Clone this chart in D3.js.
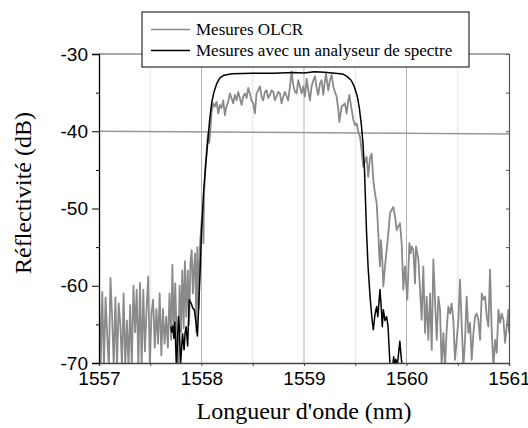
<!DOCTYPE html>
<html>
<head>
<meta charset="utf-8">
<script src="https://cdn.jsdelivr.net/npm/d3@7"></script>
<style>
  body { margin: 0; background: #fff; }
  svg { display: block; }
</style>
</head>
<body>
<script>
// axis ticks
const xMajor = [1557, 1558, 1559, 1560, 1561];
const xMinor = [1557.5, 1558.5, 1559.5, 1560.5];
const yMajor = [-30, -40, -50, -60, -70];
const yMinor = [-35, -45, -55, -65];

// legend labels
const seriesNames = ["Mesures OLCR", "Mesures avec un analyseur de spectre"];

// hand drawn reference line near -40 dB (slightly tilted in the original)
const refLine = [[1557, -40.0], [1561, -40.35]];

// OLCR measurement (grey), [wavelength nm, dB]
const olcr = [
  [1557.000,-60.5],[1557.016,-70.5],[1557.032,-60.8],[1557.048,-70.5],[1557.064,-61.5],[1557.080,-66.5],
  [1557.096,-70.5],[1557.112,-59],[1557.128,-64],[1557.144,-70.5],[1557.160,-61.5],[1557.176,-70.5],
  [1557.192,-62.3],[1557.208,-65],[1557.224,-70.5],[1557.240,-61],[1557.256,-70.5],[1557.272,-64.5],
  [1557.288,-70.5],[1557.304,-62.5],[1557.320,-70.5],[1557.336,-60],[1557.352,-66],[1557.368,-60.5],
  [1557.384,-70.5],[1557.400,-59.6],[1557.416,-70.5],[1557.432,-60.5],[1557.448,-68.5],[1557.464,-63],
  [1557.480,-58.8],[1557.496,-70.5],[1557.512,-63.5],[1557.528,-61.8],[1557.544,-68],[1557.560,-63],
  [1557.576,-67.5],[1557.592,-61],[1557.608,-69],[1557.624,-63],[1557.640,-67.5],[1557.656,-64],
  [1557.672,-68],[1557.688,-61],[1557.704,-67],[1557.716,-57.3],[1557.730,-66],[1557.744,-59.7],
  [1557.758,-67],[1557.772,-70.5],[1557.786,-60],[1557.800,-66],[1557.812,-58],[1557.826,-65.5],
  [1557.838,-56.8],[1557.852,-64],[1557.866,-58],[1557.880,-65],[1557.892,-57],[1557.904,-55.4],
  [1557.916,-61],[1557.928,-57.5],[1557.938,-55.8],[1557.950,-66],[1557.960,-55],[1557.972,-63],
  [1557.984,-55],[1557.994,-53],[1558.004,-51],[1558.012,-50.5],[1558.019,-54.5],[1558.025,-48],
  [1558.033,-46],[1558.042,-44],[1558.050,-42.5],[1558.058,-41],[1558.067,-40.2],[1558.075,-41.5],
  [1558.083,-40.5],[1558.092,-38.8],
  [1558.098,-37.5],[1558.114,-36.4],[1558.130,-36.8],[1558.147,-36.2],[1558.163,-37.7],[1558.179,-36.6],
  [1558.195,-37.0],[1558.212,-36.0],[1558.228,-37.9],[1558.244,-36.8],[1558.260,-36.2],[1558.277,-35.1],
  [1558.293,-35.7],[1558.309,-36.4],[1558.326,-35.3],[1558.342,-36.0],[1558.358,-34.9],[1558.374,-35.7],
  [1558.391,-36.6],[1558.407,-35.5],[1558.423,-35.1],[1558.440,-35.7],[1558.456,-34.4],[1558.472,-35.1],
  [1558.488,-36.0],[1558.505,-36.4],[1558.521,-37.7],[1558.537,-35.1],[1558.553,-34.7],[1558.570,-34.2],
  [1558.586,-35.5],[1558.602,-36.0],[1558.619,-34.9],[1558.635,-34.7],[1558.651,-35.7],[1558.667,-35.3],
  [1558.684,-34.7],[1558.700,-34.9],[1558.716,-36.0],[1558.733,-35.5],[1558.749,-34.9],[1558.765,-35.1],
  [1558.781,-36.4],[1558.798,-35.5],[1558.814,-34.9],[1558.830,-35.5],[1558.846,-36.0],[1558.863,-34.2],
  [1558.879,-32.3],[1558.895,-34.0],[1558.912,-34.9],[1558.928,-35.1],[1558.944,-33.4],[1558.960,-34.2],
  [1558.977,-35.1],[1558.993,-34.2],[1559.009,-35.5],[1559.026,-33.2],[1559.042,-34.7],[1559.058,-36.0],
  [1559.074,-34.2],[1559.091,-33.4],[1559.107,-32.9],[1559.123,-34.4],[1559.139,-35.3],[1559.156,-33.8],
  [1559.172,-33.4],[1559.188,-35.3],[1559.205,-33.4],[1559.214,-32.5],[1559.237,-34.7],[1559.253,-33.4],
  [1559.270,-32.7],[1559.286,-34.2],[1559.302,-34.9],[1559.318,-35.5],[1559.335,-37.2],[1559.345,-38.8],
  [1559.367,-36.8],[1559.384,-36.6],[1559.400,-36.4],[1559.416,-37.7],[1559.432,-36.0],[1559.442,-35.3],
  [1559.465,-37.2],[1559.481,-38.5],[1559.498,-39.2],[1559.514,-39.0],[1559.530,-40.1],[1559.546,-40.7],
  [1559.562,-42.4],[1559.578,-44.6],[1559.595,-43.9],[1559.611,-43.3],[1559.627,-45.9],[1559.643,-43.5],
  [1559.660,-42.9],[1559.676,-46.3],[1559.692,-48.0],[1559.709,-49.3],[1559.725,-53.2],[1559.735,-56.2],
  [1559.741,-57.5],[1559.751,-54.1],[1559.764,-56.7],[1559.774,-60.1],[1559.790,-57.5],[1559.806,-55.4],
  [1559.823,-53.2],[1559.839,-50.6],[1559.855,-50.2],[1559.871,-49.8],[1559.888,-51.0],[1559.904,-52.8],
  [1559.920,-52.3],[1559.936,-51.9],[1559.953,-54.5],[1559.969,-60.5],[1559.985,-57.5],[1560.008,-61.8],
  [1560.028,-54.5],[1560.041,-55.8],[1560.050,-54.9],[1560.067,-55.4],[1560.083,-59.7],[1560.093,-54.9],
  [1560.106,-55.8],[1560.116,-56.6],[1560.132,-60.5],[1560.148,-64.4],[1560.164,-57.5],[1560.181,-66.1],
  [1560.197,-61.4],[1560.213,-67.0],[1560.230,-61.0],[1560.246,-68.3],[1560.262,-56.6],[1560.278,-61.8],
  [1560.295,-67.0],[1560.311,-61.4],[1560.327,-63.1],[1560.343,-70.5],[1560.360,-66.1],[1560.376,-70.5],
  [1560.392,-65.7],[1560.408,-62.7],[1560.425,-63.6],[1560.441,-62.3],[1560.457,-64.4],[1560.473,-69.6],
  [1560.490,-67.0],[1560.506,-64.4],[1560.522,-59.2],[1560.539,-65.3],[1560.555,-70.5],[1560.571,-67.0],
  [1560.587,-61.4],[1560.604,-66.1],[1560.620,-64.8],[1560.636,-69.6],[1560.653,-66.1],[1560.669,-64.0],
  [1560.685,-63.6],[1560.701,-64.4],[1560.718,-67.0],[1560.734,-61.0],[1560.750,-61.8],[1560.767,-61.4],
  [1560.783,-64.0],[1560.799,-65.3],[1560.815,-57.9],[1560.832,-66.1],[1560.848,-70.5],[1560.864,-67.0],
  [1560.880,-68.7],[1560.897,-63.1],[1560.913,-64.8],[1560.929,-63.6],[1560.946,-64.4],[1560.962,-67.4],
  [1560.978,-65.3],[1560.994,-63.1],[1561.000,-66.1]
];

// optical spectrum analyser measurement (black)
const osa = [
  [1557.700,-65.3],[1557.710,-66.0],[1557.720,-65.2],[1557.730,-66.8],[1557.740,-64.7],[1557.755,-70.5],
  [1557.765,-67.5],[1557.775,-64.0],[1557.785,-65.7],[1557.795,-70.3],[1557.805,-68.3],[1557.815,-66.2],
  [1557.830,-68.3],[1557.840,-66.1],[1557.850,-65.3],[1557.865,-67.8],[1557.880,-61.8],[1557.900,-62.3],
  [1557.915,-62.9],[1557.930,-63.1],[1557.945,-64.6],[1557.960,-66.5],[1557.975,-62.0],[1557.990,-57.0],
  [1558.000,-53.0],[1558.020,-48.0],[1558.040,-44.5],[1558.060,-41.5],[1558.080,-38.5],[1558.100,-36.3],
  [1558.120,-35.0],[1558.150,-33.8],[1558.180,-33.1],[1558.220,-32.75],[1558.300,-32.55],[1558.500,-32.5],
  [1558.700,-32.5],[1558.900,-32.4],[1559.000,-32.45],[1559.100,-32.3],[1559.200,-32.35],[1559.300,-32.5],
  [1559.380,-32.6],[1559.420,-32.9],[1559.460,-33.4],[1559.490,-34.2],[1559.520,-35.5],[1559.540,-37.0],
  [1559.560,-39.2],[1559.575,-41.5],[1559.590,-45.0],[1559.600,-49.0],[1559.610,-53.0],[1559.625,-57.5],
  [1559.645,-61.5],[1559.665,-64.5],[1559.676,-65.7],[1559.690,-64.0],[1559.700,-63.2],[1559.709,-62.7],
  [1559.720,-64.0],[1559.741,-60.5],[1559.752,-62.5],[1559.764,-65.3],[1559.774,-63.1],[1559.790,-64.5],
  [1559.806,-64.0],[1559.820,-65.3],[1559.840,-70.5],[1559.860,-71.0],[1559.875,-69.2],[1559.885,-70.5],
  [1559.895,-69.5],[1559.910,-70.3],[1559.925,-68.5],[1559.935,-67.2],[1559.950,-69.5],[1559.965,-71.0]
];

const width = 528, height = 428;
const margin = {top: 54, right: 19, bottom: 65, left: 99};

const svg = d3.select("body").append("svg")
    .attr("width", width)
    .attr("height", height);

svg.append("rect").attr("width", width).attr("height", height).attr("fill", "#fff");

const x = d3.scaleLinear().domain([1557, 1561]).range([margin.left, width - margin.right]);
const y = d3.scaleLinear().domain([-70, -30]).range([height - margin.bottom, margin.top]);

svg.append("clipPath").attr("id", "plot-clip")
  .append("rect")
    .attr("x", x(1557)).attr("y", y(-30))
    .attr("width", x(1561) - x(1557)).attr("height", y(-70) - y(-30));

// vertical grid
svg.append("g")
  .selectAll("line")
  .data(xMajor.slice(1, -1))
  .join("line")
    .attr("x1", d => x(d)).attr("x2", d => x(d))
    .attr("y1", y(-30)).attr("y2", y(-70))
    .attr("stroke", "#b4b4b4").attr("stroke-width", 1);

svg.append("g")
  .selectAll("line")
  .data(xMinor)
  .join("line")
    .attr("x1", d => x(d)).attr("x2", d => x(d))
    .attr("y1", y(-30)).attr("y2", y(-70))
    .attr("stroke", "#cfcfcf").attr("stroke-width", 1)
    .attr("stroke-dasharray", "1,1");

// -40 dB line
svg.append("path")
    .datum(refLine)
    .attr("fill", "none")
    .attr("stroke", "#999")
    .attr("stroke-width", 1.6)
    .attr("d", d3.line().x(d => x(d[0])).y(d => y(d[1])));

const line = d3.line().x(d => x(d[0])).y(d => y(d[1]));

const plot = svg.append("g").attr("clip-path", "url(#plot-clip)");

plot.append("path")
    .datum(olcr)
    .attr("fill", "none")
    .attr("stroke", "#8a8a8a")
    .attr("stroke-width", 1.8)
    .attr("stroke-linejoin", "round")
    .attr("d", line);

plot.append("path")
    .datum(osa)
    .attr("fill", "none")
    .attr("stroke", "#000")
    .attr("stroke-width", 1.5)
    .attr("stroke-linejoin", "round")
    .attr("d", line);

// frame: top and right
svg.append("line")
    .attr("x1", x(1557)).attr("x2", x(1561))
    .attr("y1", y(-30)).attr("y2", y(-30))
    .attr("stroke", "#555").attr("stroke-width", 1.2);

const rightAxis = svg.append("g")
    .attr("transform", `translate(${x(1561)},0)`)
    .call(d3.axisRight(y).tickValues(yMajor.concat(yMinor)).tickSize(-3).tickFormat(""));
rightAxis.select(".domain").attr("stroke", "#555").attr("stroke-width", 1.2);
rightAxis.selectAll(".tick line").attr("stroke", "#555");

// bottom axis
const bottomAxis = svg.append("g")
    .attr("transform", `translate(0,${y(-70)})`)
    .call(d3.axisBottom(x).tickValues(xMajor).tickSize(3).tickPadding(6).tickFormat(d => String(d)));
bottomAxis.append("g")
    .call(d3.axisBottom(x).tickValues(xMinor).tickSize(3).tickFormat(""))
    .select(".domain").remove();
bottomAxis.selectAll(".domain").attr("stroke", "#444").attr("stroke-width", 1.3);
bottomAxis.selectAll(".tick line").attr("stroke", "#444");
bottomAxis.selectAll("text")
    .attr("font-family", "Liberation Sans, Arial, sans-serif")
    .attr("font-size", 19)
    .attr("fill", "#000");

// left axis
const leftAxis = svg.append("g")
    .attr("transform", `translate(${x(1557)},0)`)
    .call(d3.axisLeft(y).tickValues(yMajor).tickSize(7).tickPadding(4).tickFormat(d => String(d)));
leftAxis.append("g")
    .call(d3.axisLeft(y).tickValues(yMinor).tickSize(3).tickFormat(""))
    .select(".domain").remove();
leftAxis.selectAll(".domain").attr("stroke", "#000").attr("stroke-width", 1.3);
leftAxis.selectAll(".tick line").attr("stroke", "#000");
leftAxis.selectAll("text")
    .attr("font-family", "Liberation Sans, Arial, sans-serif")
    .attr("font-size", 19)
    .attr("fill", "#000");

// axis titles
svg.append("text")
    .attr("x", (x(1557) + x(1561)) / 2)
    .attr("y", 419)
    .attr("text-anchor", "middle")
    .attr("font-family", "Liberation Serif, Times New Roman, serif")
    .attr("font-size", 24)
    .text("Longueur d'onde (nm)");

svg.append("text")
    .attr("transform", "translate(31,193) rotate(-90)")
    .attr("text-anchor", "middle")
    .attr("font-family", "Liberation Serif, Times New Roman, serif")
    .attr("font-size", 24)
    .text("Réflectivité (dB)");

// legend
const legend = svg.append("g");
legend.append("rect")
    .attr("x", 142).attr("y", 12)
    .attr("width", 327).attr("height", 55)
    .attr("fill", "#fff")
    .attr("stroke", "#000").attr("stroke-width", 1);

const legendColors = ["#8a8a8a", "#000"];
const item = legend.selectAll(".item")
  .data(seriesNames)
  .join("g")
    .attr("class", "item")
    .attr("transform", (d, i) => `translate(0,${29.5 + i * 21})`);
item.append("line")
    .attr("x1", 151).attr("x2", 190)
    .attr("stroke", (d, i) => legendColors[i])
    .attr("stroke-width", 1.6);
item.append("text")
    .attr("x", 196)
    .attr("y", 5)
    .attr("font-family", "Liberation Serif, Times New Roman, serif")
    .attr("font-size", 17)
    .text(d => d);
</script>
</body>
</html>
